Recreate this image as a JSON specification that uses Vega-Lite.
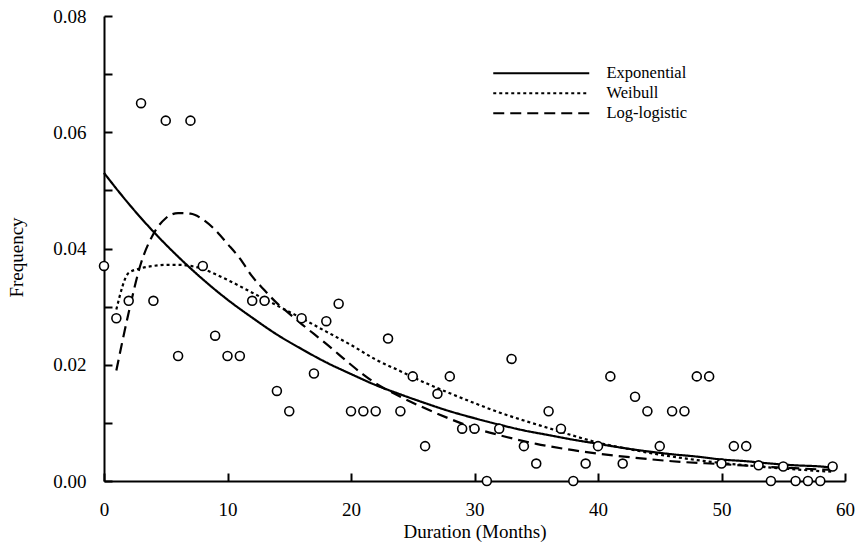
{
  "$schema": "https://vega.github.io/schema/vega-lite/v6.json",
  "width": 741,
  "height": 465,
  "autosize": {"type": "none"},
  "padding": {"left": 104, "top": 16, "right": 11, "bottom": 73},
  "background": "white",
  "config": {
    "view": {"stroke": null},
    "font": "Liberation Serif",
    "axis": {
      "labelFont": "Liberation Serif",
      "titleFont": "Liberation Serif",
      "labelFontSize": 19,
      "titleFontSize": 19,
      "titleFontWeight": "normal",
      "labelColor": "#000000",
      "titleColor": "#000000",
      "domainColor": "#000000",
      "domainWidth": 2,
      "tickColor": "#000000",
      "tickWidth": 2,
      "tickOpacity": 1,
      "grid": false
    }
  },
  "resolve": {"axis": {"x": "independent", "y": "independent"}},
  "datasets": {
    "obs": [
      {"t": 0, "f": 0.0370}, {"t": 1, "f": 0.0280}, {"t": 2, "f": 0.0310}, {"t": 3, "f": 0.0650},
      {"t": 4, "f": 0.0310}, {"t": 5, "f": 0.0620}, {"t": 6, "f": 0.0215}, {"t": 7, "f": 0.0620},
      {"t": 8, "f": 0.0370}, {"t": 9, "f": 0.0250}, {"t": 10, "f": 0.0215}, {"t": 11, "f": 0.0215},
      {"t": 12, "f": 0.0310}, {"t": 13, "f": 0.0310}, {"t": 14, "f": 0.0155}, {"t": 15, "f": 0.0120},
      {"t": 16, "f": 0.0280}, {"t": 17, "f": 0.0185}, {"t": 18, "f": 0.0275}, {"t": 19, "f": 0.0305},
      {"t": 20, "f": 0.0120}, {"t": 21, "f": 0.0120}, {"t": 22, "f": 0.0120}, {"t": 23, "f": 0.0245},
      {"t": 24, "f": 0.0120}, {"t": 25, "f": 0.0180}, {"t": 26, "f": 0.0060}, {"t": 27, "f": 0.0150},
      {"t": 28, "f": 0.0180}, {"t": 29, "f": 0.0090}, {"t": 30, "f": 0.0090}, {"t": 31, "f": 0.0000},
      {"t": 32, "f": 0.0090}, {"t": 33, "f": 0.0210}, {"t": 34, "f": 0.0060}, {"t": 35, "f": 0.0030},
      {"t": 36, "f": 0.0120}, {"t": 37, "f": 0.0090}, {"t": 38, "f": 0.0000}, {"t": 39, "f": 0.0030},
      {"t": 40, "f": 0.0060}, {"t": 41, "f": 0.0180}, {"t": 42, "f": 0.0030}, {"t": 43, "f": 0.0145},
      {"t": 44, "f": 0.0120}, {"t": 45, "f": 0.0060}, {"t": 46, "f": 0.0120}, {"t": 47, "f": 0.0120},
      {"t": 48, "f": 0.0180}, {"t": 49, "f": 0.0180}, {"t": 50, "f": 0.0030}, {"t": 51, "f": 0.0060},
      {"t": 52, "f": 0.0060}, {"t": 53, "f": 0.0027}, {"t": 54, "f": 0.0000}, {"t": 55, "f": 0.0025},
      {"t": 56, "f": 0.0000}, {"t": 57, "f": 0.0000}, {"t": 58, "f": 0.0000}, {"t": 59, "f": 0.0025}
    ],
    "fits": [
      {"model": "Exponential", "t": 0, "f": 0.0530}, {"model": "Exponential", "t": 2, "f": 0.0477},
      {"model": "Exponential", "t": 4, "f": 0.0429}, {"model": "Exponential", "t": 6, "f": 0.0386},
      {"model": "Exponential", "t": 8, "f": 0.0347}, {"model": "Exponential", "t": 10, "f": 0.0312},
      {"model": "Exponential", "t": 12, "f": 0.0281}, {"model": "Exponential", "t": 14, "f": 0.0252},
      {"model": "Exponential", "t": 16, "f": 0.0227}, {"model": "Exponential", "t": 18, "f": 0.0204},
      {"model": "Exponential", "t": 20, "f": 0.0184}, {"model": "Exponential", "t": 22, "f": 0.0165},
      {"model": "Exponential", "t": 24, "f": 0.0149}, {"model": "Exponential", "t": 26, "f": 0.0134},
      {"model": "Exponential", "t": 28, "f": 0.0120}, {"model": "Exponential", "t": 30, "f": 0.0108},
      {"model": "Exponential", "t": 32, "f": 0.0097}, {"model": "Exponential", "t": 34, "f": 0.0087},
      {"model": "Exponential", "t": 36, "f": 0.0079}, {"model": "Exponential", "t": 38, "f": 0.0071},
      {"model": "Exponential", "t": 40, "f": 0.0064}, {"model": "Exponential", "t": 42, "f": 0.0057},
      {"model": "Exponential", "t": 44, "f": 0.0051}, {"model": "Exponential", "t": 46, "f": 0.0046},
      {"model": "Exponential", "t": 48, "f": 0.0042}, {"model": "Exponential", "t": 50, "f": 0.0037},
      {"model": "Exponential", "t": 52, "f": 0.0034}, {"model": "Exponential", "t": 54, "f": 0.0030},
      {"model": "Exponential", "t": 56, "f": 0.0027}, {"model": "Exponential", "t": 58, "f": 0.0025},
      {"model": "Exponential", "t": 59, "f": 0.0023},
      {"model": "Weibull", "t": 1, "f": 0.0295}, {"model": "Weibull", "t": 2, "f": 0.0358},
      {"model": "Weibull", "t": 3, "f": 0.0366}, {"model": "Weibull", "t": 4, "f": 0.0370},
      {"model": "Weibull", "t": 5, "f": 0.0372}, {"model": "Weibull", "t": 6, "f": 0.0372},
      {"model": "Weibull", "t": 7, "f": 0.0370}, {"model": "Weibull", "t": 8, "f": 0.0365},
      {"model": "Weibull", "t": 9, "f": 0.0356}, {"model": "Weibull", "t": 10, "f": 0.0346},
      {"model": "Weibull", "t": 12, "f": 0.0324}, {"model": "Weibull", "t": 14, "f": 0.0302},
      {"model": "Weibull", "t": 16, "f": 0.0280}, {"model": "Weibull", "t": 18, "f": 0.0257},
      {"model": "Weibull", "t": 20, "f": 0.0234}, {"model": "Weibull", "t": 22, "f": 0.0209},
      {"model": "Weibull", "t": 24, "f": 0.0189}, {"model": "Weibull", "t": 26, "f": 0.0169},
      {"model": "Weibull", "t": 28, "f": 0.0151}, {"model": "Weibull", "t": 30, "f": 0.0134},
      {"model": "Weibull", "t": 32, "f": 0.0118}, {"model": "Weibull", "t": 34, "f": 0.0104},
      {"model": "Weibull", "t": 36, "f": 0.0091}, {"model": "Weibull", "t": 38, "f": 0.0078},
      {"model": "Weibull", "t": 40, "f": 0.0066}, {"model": "Weibull", "t": 42, "f": 0.0057},
      {"model": "Weibull", "t": 44, "f": 0.0049}, {"model": "Weibull", "t": 46, "f": 0.0042},
      {"model": "Weibull", "t": 48, "f": 0.0036}, {"model": "Weibull", "t": 50, "f": 0.0031},
      {"model": "Weibull", "t": 52, "f": 0.0027}, {"model": "Weibull", "t": 54, "f": 0.0023},
      {"model": "Weibull", "t": 56, "f": 0.0020}, {"model": "Weibull", "t": 58, "f": 0.0017},
      {"model": "Weibull", "t": 59, "f": 0.0016},
      {"model": "Log-logistic", "t": 1, "f": 0.0190}, {"model": "Log-logistic", "t": 2, "f": 0.0290},
      {"model": "Log-logistic", "t": 3, "f": 0.0375}, {"model": "Log-logistic", "t": 4, "f": 0.0425},
      {"model": "Log-logistic", "t": 5, "f": 0.0452}, {"model": "Log-logistic", "t": 6, "f": 0.0461},
      {"model": "Log-logistic", "t": 7, "f": 0.0460}, {"model": "Log-logistic", "t": 8, "f": 0.0450},
      {"model": "Log-logistic", "t": 9, "f": 0.0432}, {"model": "Log-logistic", "t": 10, "f": 0.0408},
      {"model": "Log-logistic", "t": 11, "f": 0.0383}, {"model": "Log-logistic", "t": 12, "f": 0.0352},
      {"model": "Log-logistic", "t": 13, "f": 0.0328}, {"model": "Log-logistic", "t": 14, "f": 0.0306},
      {"model": "Log-logistic", "t": 15, "f": 0.0288}, {"model": "Log-logistic", "t": 16, "f": 0.0270},
      {"model": "Log-logistic", "t": 17, "f": 0.0253}, {"model": "Log-logistic", "t": 18, "f": 0.0236},
      {"model": "Log-logistic", "t": 19, "f": 0.0218}, {"model": "Log-logistic", "t": 20, "f": 0.0200},
      {"model": "Log-logistic", "t": 21, "f": 0.0183}, {"model": "Log-logistic", "t": 22, "f": 0.0168},
      {"model": "Log-logistic", "t": 24, "f": 0.0145}, {"model": "Log-logistic", "t": 26, "f": 0.0125},
      {"model": "Log-logistic", "t": 28, "f": 0.0107}, {"model": "Log-logistic", "t": 30, "f": 0.0091},
      {"model": "Log-logistic", "t": 32, "f": 0.0079}, {"model": "Log-logistic", "t": 35, "f": 0.0064},
      {"model": "Log-logistic", "t": 38, "f": 0.0053}, {"model": "Log-logistic", "t": 40, "f": 0.0047},
      {"model": "Log-logistic", "t": 43, "f": 0.0040}, {"model": "Log-logistic", "t": 46, "f": 0.0034},
      {"model": "Log-logistic", "t": 50, "f": 0.0029}, {"model": "Log-logistic", "t": 54, "f": 0.0024},
      {"model": "Log-logistic", "t": 59, "f": 0.0019}
    ]
  },
  "layer": [
    {
      "data": {"name": "fits"},
      "mark": {"type": "line", "color": "black", "strokeWidth": 2.2, "interpolate": "monotone", "strokeCap": "butt"},
      "encoding": {
        "x": {
          "field": "t", "type": "quantitative",
          "scale": {"domain": [0, 60], "nice": false, "zero": false},
          "axis": {"orient": "bottom", "title": "Duration (Months)", "values": [0, 10, 20, 30, 40, 50, 60], "ticks": true, "tickSize": 0, "labelPadding": 19, "titlePadding": 3, "labelFlush": false}
        },
        "y": {
          "field": "f", "type": "quantitative",
          "scale": {"domain": [0, 0.08], "nice": false},
          "axis": {
            "orient": "left",
            "title": "Frequency",
            "values": [0, 0.02, 0.04, 0.06, 0.08],
            "format": ".2f",
            "ticks": true, "tickSize": 0,
            "labelPadding": 18, "titlePadding": 26, "titleY": 241, "labelFlush": false
          }
        },
        "strokeDash": {
          "field": "model", "type": "nominal",
          "scale": {"domain": ["Exponential", "Weibull", "Log-logistic"], "range": [[1, 0], [3, 3], [11, 6]]},
          "legend": {
            "title": null,
            "orient": "none",
            "legendX": 429,
            "legendY": 49,
            "padding": 0,
            "symbolType": "M-8,0H8",
            "symbolSize": 144,
            "symbolStrokeWidth": 2.2,
            "symbolStrokeColor": "black",
            "symbolFillColor": "transparent",
            "labelFont": "Liberation Serif",
            "labelFontSize": 16.5,
            "labelColor": "black",
            "labelOffset": 57,
            "rowPadding": 3
          }
        }
      }
    },
    {
      "data": {"name": "obs"},
      "mark": {"type": "point", "shape": "circle", "filled": false, "fill": "white", "fillOpacity": 1, "stroke": "black", "strokeWidth": 1.6, "size": 80, "opacity": 1},
      "encoding": {
        "x": {
          "field": "t", "type": "quantitative",
          "axis": {"orient": "bottom", "offset": -8, "domain": false, "labels": false, "title": null, "ticks": true, "tickSize": 8, "tickWidth": 2, "tickColor": "#000000", "values": [0, 10, 20, 30, 40, 50, 60]}
        },
        "y": {
          "field": "f", "type": "quantitative",
          "axis": {"orient": "left", "offset": -8, "domain": false, "labels": false, "title": null, "ticks": true, "tickSize": 8, "tickWidth": 2, "tickColor": "#000000", "values": [0, 0.01, 0.02, 0.03, 0.04, 0.05, 0.06, 0.07, 0.08]}
        }
      }
    }
  ]
}
